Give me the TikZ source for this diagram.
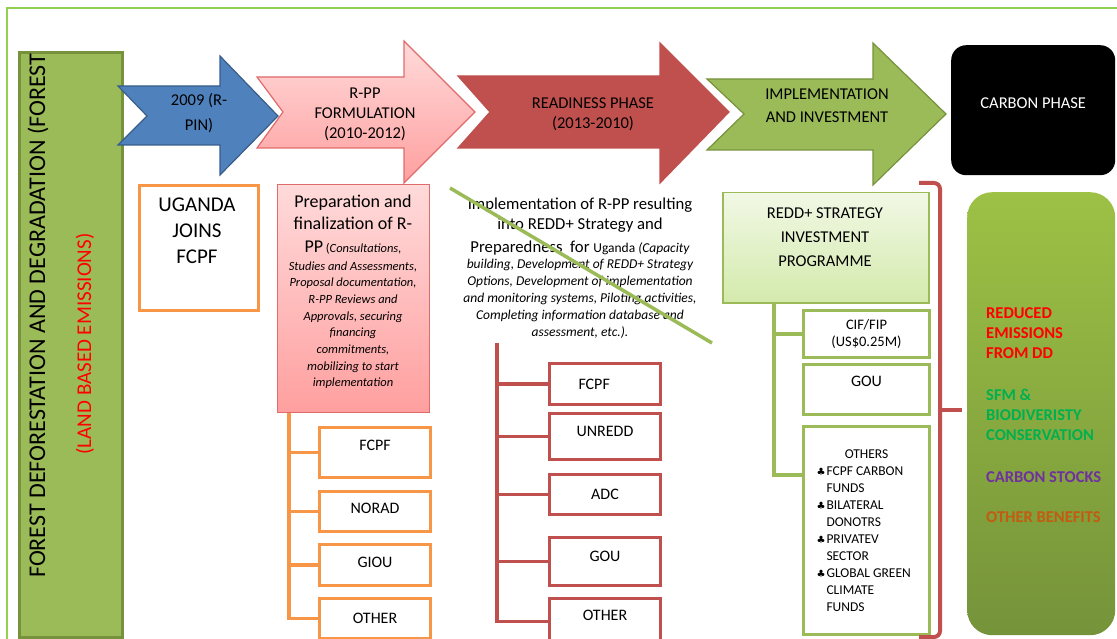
\documentclass[tikz,border=0pt]{standalone}
\usepackage{fontspec}
\setmainfont{Carlito}
\newfontfamily\clubfont{DejaVu Sans}
\usetikzlibrary{calc}

\definecolor{frameG}{HTML}{92D050}
\definecolor{oliveG}{HTML}{9BBB59}
\definecolor{oliveD}{HTML}{76923C}
\definecolor{blueA}{HTML}{4F81BD}
\definecolor{blueD}{HTML}{385D8A}
\definecolor{redA}{HTML}{C0504D}
\definecolor{orangeA}{HTML}{F79646}
\definecolor{pinkT}{HTML}{FFDADA}
\definecolor{pinkB}{HTML}{FF9F9F}
\definecolor{pinkD}{HTML}{E06B6B}
\definecolor{reddT}{HTML}{F1F8E5}
\definecolor{reddB}{HTML}{D4EAAC}
\definecolor{benT}{HTML}{9DC145}
\definecolor{benB}{HTML}{75933A}
\definecolor{sfmG}{HTML}{00B050}
\definecolor{stockP}{HTML}{7030A0}
\definecolor{otherB}{HTML}{C55A11}

\newcommand{\bigtxt}{\fontsize{18}{22}\selectfont\upshape}
\newcommand{\midtxt}{\fontsize{16.7}{21}\selectfont\upshape}
\newcommand{\smalltxt}{\fontsize{12.5}{16.7}\selectfont\itshape}
\newcommand{\readytxt}{\fontsize{13.5}{16.8}\selectfont\itshape}
\newcommand{\club}{\makebox[10pt][l]{\clubfont\fontsize{10}{12}\selectfont ♣}}

\tikzset{
  lbl/.style={font=\fontsize{16.5}{20}\selectfont, align=center, inner sep=0pt},
  arrowbody/.style={line width=1.2pt, line join=miter},
  plainbox/.style={anchor=north west, inner sep=0pt, fill=white, line width=3pt, font=\fontsize{16}{20}\selectfont},
  obox/.style={plainbox, draw=orangeA},
  rbox/.style={plainbox, draw=redA},
  gbox/.style={plainbox, draw=oliveG},
  oline/.style={orangeA, line width=3.5pt},
  rline/.style={redA, line width=3.5pt},
  gline/.style={oliveG, line width=3.5pt},
  lift/.style={text depth=#1},
  benefit/.style={font=\fontsize{16.5}{20}\selectfont\bfseries, align=left, anchor=west, inner sep=0pt}
}

\begin{document}
\begin{tikzpicture}[x=1pt, y=-1pt]
\clip (0,0) rectangle (1117,639);
% outer frame
\draw[frameG, line width=1.5pt] (7,639) -- (7,8) -- (1117,8);

% left column
\node[anchor=north west, minimum width=103, minimum height=585, fill=oliveG, draw=oliveD, line width=3pt] (forestbox) at (18,51) {};
\node[font=\fontsize{24}{28}\selectfont, rotate=90, anchor=west, inner sep=0pt] (forest) at (38,578) {FOREST DEFORESTATION AND DEGRADATION (FOREST};
\node[font=\fontsize{21}{25}\selectfont, rotate=90, inner sep=0pt, text=red] (landbased) at (85,344) {(LAND BASED EMISSIONS)};

% phase arrows
\draw[arrowbody, fill=blueA, draw=blueD] (118,86) -- (220,86) -- (220,56) -- (278,116) -- (220,175) -- (220,145) -- (118,145) -- (147,116) -- cycle;
\draw[arrowbody, top color=pinkT, bottom color=pinkB, draw=pinkD] (257,77) -- (404,77) -- (404,41) -- (475,112) -- (404,183) -- (404,148) -- (257,148) -- (283,112) -- cycle;
\draw[arrowbody, fill=redA, draw=redA] (458,76) -- (660,76) -- (660,43) -- (729,112) -- (660,183) -- (660,148) -- (458,148) -- (490,112) -- cycle;
\draw[arrowbody, fill=oliveG, draw=oliveD] (707,79) -- (873,79) -- (873,43) -- (946,114) -- (873,185) -- (873,150) -- (707,150) -- (744,114) -- cycle;
\node[lbl, font=\fontsize{16.5}{25}\selectfont] (rpin) at (199,113) {2009 (R-\\PIN)};
\node[lbl] (formulation) at (365,114) {R-PP\\FORMULATION\\(2010-2012)};
\node[lbl] (readiness) at (593,114) {READINESS PHASE\\(2013-2010)};
\node[lbl, font=\fontsize{16.5}{23}\selectfont] (implement) at (827,106) {IMPLEMENTATION\\AND INVESTMENT};
\node[anchor=north west, fill=black, rounded corners=15pt, minimum width=164, minimum height=130, inner sep=0pt, text=white, font=\fontsize{16.5}{20}\selectfont, lift=14pt] (carbon) at (951,45) {CARBON PHASE};

% uganda joins
\node[obox, minimum width=119, minimum height=125] (uganda) at (138,184) {};
\node[lbl, font=\fontsize{21}{26}\selectfont] (ugandatxt) at (197,231) {UGANDA\\JOINS\\FCPF};

% R-PP formulation
\node[anchor=north west, minimum width=152, minimum height=228, top color=pinkT, bottom color=pinkB, draw=pinkD, line width=1.2pt] (prep) at (277,184) {};
\node[lbl, font=\smalltxt] (preptxt) at (353,292) {{\bigtxt Preparation and}\\[4.8pt]
  {\bigtxt finalization of R-}\\[6.3pt]
  {\bigtxt PP} {\upshape (}Consultations,\\[1.3pt]
  Studies and Assessments,\\Proposal documentation,\\R-PP Reviews and\\Approvals, securing\\financing\\commitments,\\mobilizing to start\\implementation};
\node[obox, minimum width=111, minimum height=50, lift=14pt] (oFCPF) at (318,426) {FCPF};
\node[obox, minimum width=111, minimum height=40, lift=6pt] (oNORAD) at (318,490) {NORAD};
\node[obox, minimum width=111, minimum height=41, lift=6pt] (oGIOU) at (318,543) {GIOU};
\node[obox, minimum width=111, minimum height=40] (oOTHER) at (318,597) {OTHER};
\coordinate (otop) at ($(prep.south west)+(12,0)$);
\draw[oline] (otop) |- (oOTHER.west);
\foreach \b in {oFCPF,oNORAD,oGIOU}
  \draw[oline] (otop |- \b.west) -- (\b.west);

% readiness
\node[lbl, font=\readytxt] (readytxt) at (580,268) {{\midtxt Implementation of R-PP resulting}\\[3.5pt]
  {\midtxt into REDD+ Strategy and}\\[5.3pt]
  {\midtxt Preparedness\ \ for {\fontsize{13.5}{21}\selectfont Uganda}} (Capacity\\
  building, Development of REDD+ Strategy\\Options, Development of implementation\\and monitoring systems, Piloting activities,\\Completing information database and\\assessment, etc.).};
\draw[oliveG, line width=3.5pt] (450,188) -- (712,343);
\node[rbox, minimum width=111, minimum height=41, text width=53pt, align=left] (rFCPF) at (548,362) {FCPF};
\node[rbox, minimum width=111, minimum height=46, lift=10pt] (rUNREDD) at (548,412) {UNREDD};
\node[rbox, minimum width=111, minimum height=40] (rADC) at (548,473) {ADC};
\node[rbox, minimum width=111, minimum height=48, lift=10pt] (rGOU) at (548,536) {GOU};
\node[rbox, minimum width=111, minimum height=46, lift=12pt] (rOTHER) at (548,597) {OTHER};
\coordinate (rtop) at (497,343);
\draw[rline] (rtop) |- (rOTHER.west);
\foreach \b in {rFCPF,rUNREDD,rADC,rGOU}
  \draw[rline] (rtop |- \b.west) -- (\b.west);

% implementation and investment
\node[anchor=north west, minimum width=206, minimum height=110, top color=reddT, bottom color=reddB, draw=oliveG, line width=1.5pt] (redd) at (722,192) {};
\node[lbl, font=\fontsize{16.5}{24}\selectfont] (reddtxt) at (825,237) {REDD+ STRATEGY\\INVESTMENT\\PROGRAMME};
\node[gbox, minimum width=126, minimum height=47, align=center, font=\fontsize{14.5}{17}\selectfont] (gCIF) at (802,309) {CIF/FIP\\(US\$0.25M)};
\node[gbox, minimum width=126, minimum height=50, lift=16pt] (gGOU) at (802,363) {GOU};
\node[gbox, minimum width=126, minimum height=208, align=left, font=\fontsize{13.5}{17}\selectfont] (gOTH) at (802,425) {\makebox[100pt][c]{OTHERS}\\\club FCPF CARBON\\\hspace*{10pt}FUNDS\\\club BILATERAL\\\hspace*{10pt}DONOTRS\\\club PRIVATEV\\\hspace*{10pt}SECTOR\\\club GLOBAL GREEN\\\hspace*{10pt}CLIMATE\\\hspace*{10pt}FUNDS};
\coordinate (gtop) at ($(redd.south west)+(52,0)$);
\coordinate (gend) at ($(gOTH.north west)+(0,50)$);
\draw[gline] (gtop) |- (gend);
\draw[gline] (gtop |- gCIF.west) -- (gCIF.west);

% bracket and benefits
\draw[redA, line width=4pt, rounded corners=6pt] (919,183) -- (940,183) -- (940,637) -- (919,637);
\draw[redA, line width=4pt] (940,410) -- (962,410);
\node[anchor=north west, minimum width=148, minimum height=443, rounded corners=25pt, top color=benT, bottom color=benB, inner sep=0pt] (benefits) at (967,192) {};
\node[benefit, text=red] (reduced) at (986,333) {REDUCED\\EMISSIONS\\FROM DD};
\node[benefit, text=sfmG] (sfm) at (986,415) {SFM \&\\BIODIVERISTY\\CONSERVATION};
\node[benefit, text=stockP] (stocks) at (986,477) {CARBON STOCKS};
\node[benefit, text=otherB] (otherben) at (986,517) {OTHER BENEFITS};
\end{tikzpicture}
\end{document}
